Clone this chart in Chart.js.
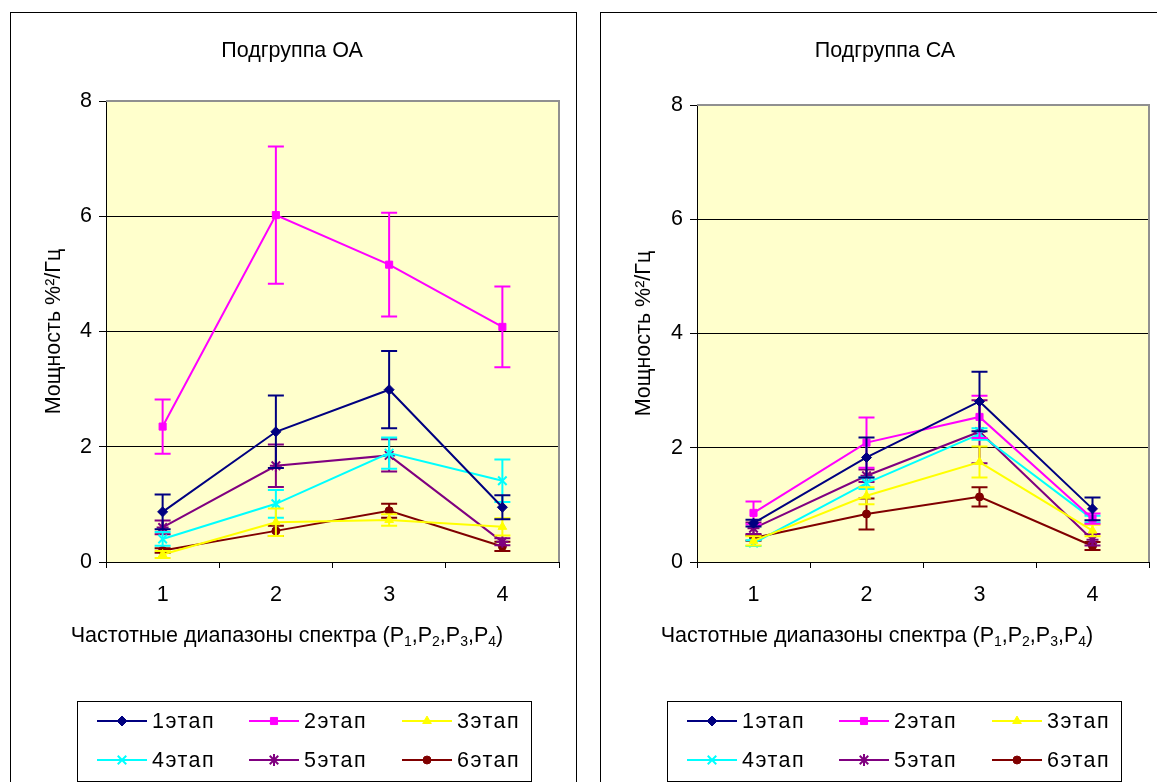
<!DOCTYPE html>
<html><head><meta charset="utf-8">
<script src="https://cdn.jsdelivr.net/npm/chart.js@4.4.1/dist/chart.umd.min.js"></script>
<style>
html,body{margin:0;padding:0;background:#fff;overflow:hidden;width:1157px;height:782px;}
.box{position:absolute;top:12px;width:565px;height:800px;border:1px solid #000;background:#fff;}
#b1{left:10px;} #b2{left:600px;}
canvas{position:absolute;left:0;top:0;}
</style></head><body>
<div class="box" id="b1"><canvas id="c1" width="565" height="769" style="width:565px;height:769px"></canvas></div>
<div class="box" id="b2"><canvas id="c2" width="565" height="769" style="width:565px;height:769px"></canvas></div>
<script>
// ---- data ----
const categories = ['1', '2', '3', '4'];
const seriesNames = ['1этап', '2этап', '3этап', '4этап', '5этап', '6этап'];
const yTicks = [0, 2, 4, 6, 8];

// Подгруппа ОА
const oa1 = [0.87, 2.26, 2.99, 0.95];
const oa1Err = [0.30, 0.63, 0.67, 0.21];
const oa2 = [2.35, 6.02, 5.16, 4.08];
const oa2Err = [0.47, 1.19, 0.90, 0.70];
const oa3 = [0.13, 0.69, 0.73, 0.61];
const oa3Err = [0.06, 0.24, 0.10, 0.15];
const oa4 = [0.40, 1.01, 1.89, 1.41];
const oa4Err = [0.12, 0.24, 0.27, 0.37];
const oa5 = [0.60, 1.67, 1.85, 0.35];
const oa5Err = [0.12, 0.37, 0.28, 0.06];
const oa6 = [0.20, 0.54, 0.89, 0.27];
const oa6Err = [0.04, 0.09, 0.12, 0.08];

// Подгруппа СА
const ca1 = [0.68, 1.83, 2.81, 0.93];
const ca1Err = [0.06, 0.35, 0.52, 0.20];
const ca2 = [0.86, 2.09, 2.54, 0.76];
const ca2Err = [0.20, 0.44, 0.37, 0.09];
const ca3 = [0.37, 1.16, 1.75, 0.55];
const ca3Err = [0.08, 0.15, 0.27, 0.10];
const ca4 = [0.33, 1.38, 2.24, 0.75];
const ca4Err = [0.05, 0.10, 0.10, 0.06];
const ca5 = [0.59, 1.51, 2.28, 0.39];
const ca5Err = [0.10, 0.11, 0.55, 0.10];
const ca6 = [0.42, 0.84, 1.14, 0.28];
const ca6Err = [0.05, 0.27, 0.17, 0.07];

// ---- styles ----
const FONT = '"Liberation Sans", Arial, sans-serif';
const FS = 21.5;
const LH = FS * 1.2;
const colors = ['#000080', '#FF00FF', '#FFFF00', '#00FFFF', '#800080', '#800000'];
const pStyles = ['rectRot', 'rect', 'triangle', 'crossRot', 'star', 'circle'];
const pRadius = [5, 5, 5, 6, 6, 4];
const pBorder = [1, 1, 1, 2, 2, 1];

const bgPlugin = {
  id: 'bg',
  beforeDraw(chart) {
    const a = chart.chartArea, c = chart.ctx;
    c.save();
    c.fillStyle = '#FFFFCC';
    c.fillRect(a.left, a.top, a.right - a.left, a.bottom - a.top);
    c.restore();
  },
  beforeDatasetsDraw(chart) {
    const a = chart.chartArea, c = chart.ctx;
    c.save();
    c.strokeStyle = '#909090';
    c.lineWidth = 2;
    c.beginPath();
    c.moveTo(a.left, a.top); c.lineTo(a.right, a.top); c.lineTo(a.right, a.bottom);
    c.stroke();
    c.restore();
  }
};

const errPlugin = {
  id: 'errbars',
  afterDatasetDraw(chart, args) {
    const ds = chart.data.datasets[args.index];
    const meta = args.meta;
    const ys = chart.scales.y, c = chart.ctx;
    c.save();
    c.strokeStyle = ds.borderColor;
    c.lineWidth = 2;
    ds.data.forEach((v, j) => {
      const e = ds.errors[j];
      const x = meta.data[j].x;
      const yt = ys.getPixelForValue(v + e), yb = ys.getPixelForValue(Math.max(0, v - e));
      c.beginPath();
      c.moveTo(x, yt); c.lineTo(x, yb);
      c.moveTo(x - 8, yt); c.lineTo(x + 8, yt);
      c.moveTo(x - 8, yb); c.lineTo(x + 8, yb);
      c.stroke();
    });
    c.restore();
  }
};

const textPlugin = {
  id: 'texts',
  afterDraw(chart) {
    const c = chart.ctx;
    const o = chart.options;
    c.save();
    c.fillStyle = '#000';
    // chart title
    c.font = FS + 'px ' + FONT;
    c.textAlign = 'center';
    c.textBaseline = 'middle';
    c.fillText(o.chartTitle, o.titleX, 38);
    // x-axis title with subscripts
    c.textAlign = 'left';
    c.textBaseline = 'alphabetic';
    const parts = [['Частотные диапазоны спектра (P', 0], ['1', 1], [',P', 0], ['2', 1], [',P', 0], ['3', 1], [',P', 0], ['4', 1], [')', 0]];
    const big = FS + 'px ' + FONT, small = Math.round(FS * 0.65) + 'px ' + FONT;
    let w = 0;
    parts.forEach(p => { c.font = p[1] ? small : big; w += c.measureText(p[0]).width; });
    let x = o.xTitleX - w / 2;
    const y = chart.chartArea.bottom + 80;
    parts.forEach(p => {
      c.font = p[1] ? small : big;
      c.fillText(p[0], x, p[1] ? y + 4 : y);
      x += c.measureText(p[0]).width;
    });
    c.restore();
  }
};

function drawMarker(c, style, r, bw, color, x, y) {
  if (Chart.helpers && Chart.helpers.drawPoint) {
    c.fillStyle = color; c.strokeStyle = color; c.lineWidth = bw;
    Chart.helpers.drawPoint(c, {pointStyle: style, radius: r, borderWidth: bw, rotation: 0}, x, y);
  }
}

const legendPlugin = {
  id: 'boxlegend',
  afterDraw(chart) {
    const c = chart.ctx;
    const L = 66, T = 688, R = 520, B = 768;
    c.save();
    c.strokeStyle = '#000'; c.lineWidth = 1;
    c.strokeRect(L + 0.5, T + 0.5, R - L, B - T);
    const colX = [86, 238, 391], rowY = [708, 747];
    chart.data.datasets.forEach((ds, i) => {
      const x0 = colX[i % 3], y0 = rowY[Math.floor(i / 3)];
      c.strokeStyle = ds.borderColor; c.lineWidth = 2;
      c.beginPath(); c.moveTo(x0, y0); c.lineTo(x0 + 50, y0); c.stroke();
      drawMarker(c, ds.pointStyle, ds.pointRadius, ds.pointBorderWidth, ds.borderColor, x0 + 25, y0);
      c.fillStyle = '#000';
      c.font = FS + 'px ' + FONT;
      c.textBaseline = 'middle';
      if ('letterSpacing' in c) c.letterSpacing = '1.5px';
      c.fillText(ds.label, x0 + 55, y0 + 1);
      if ('letterSpacing' in c) c.letterSpacing = '0px';
    });
    c.restore();
  }
};

function makeChart(id, title, values, errs, plotTop, yWidth, titleX, xTitleX) {
  const datasets = seriesNames.map((n, i) => ({
    label: n,
    data: values[i],
    errors: errs[i],
    borderColor: colors[i],
    backgroundColor: colors[i],
    pointBackgroundColor: colors[i],
    pointBorderColor: colors[i],
    pointStyle: pStyles[i],
    pointRadius: pRadius[i],
    pointBorderWidth: pBorder[i],
    borderWidth: 2,
    tension: 0,
    fill: false,
    clip: false
  }));
  return new Chart(document.getElementById(id), {
    type: 'line',
    data: {labels: categories, datasets},
    options: {
      responsive: false,
      animation: false,
      events: [],
      chartTitle: title,
      titleX,
      xTitleX,
      layout: {padding: {left: 0, right: 17, top: plotTop, bottom: 172}},
      plugins: {
        legend: {display: false},
        tooltip: {enabled: false},
        title: {display: false}
      },
      scales: {
        x: {
          type: 'category',
          offset: true,
          grid: {offset: true, drawOnChartArea: false, drawTicks: true, tickLength: 6, color: '#000', tickColor: '#000'},
          border: {display: true, color: '#000', width: 1},
          ticks: {color: '#000', font: {family: FONT, size: FS}, padding: 14, maxRotation: 0},
          afterFit(s) { s.height = 48; }
        },
        y: {
          min: 0, max: 8,
          afterBuildTicks(s) { s.ticks = yTicks.map(v => ({value: v})); },
          ticks: {color: '#000', font: {family: FONT, size: FS}, padding: 7},
          grid: {
            drawTicks: true, tickLength: 7, tickColor: '#000',
            color: ctx => (ctx.tick && ctx.tick.value === 8) ? 'rgba(0,0,0,0)' : '#000'
          },
          border: {display: true, color: '#000', width: 1},
          title: {display: true, text: 'Мощность %²/Гц', color: '#000', font: {family: FONT, size: FS}, padding: {top: 30, bottom: 0}},
          afterFit(s) { s.width = yWidth; }
        }
      }
    },
    plugins: [bgPlugin, errPlugin, textPlugin, legendPlugin]
  });
}

makeChart('c1', 'Подгруппа ОА', [oa1, oa2, oa3, oa4, oa5, oa6], [oa1Err, oa2Err, oa3Err, oa4Err, oa5Err, oa6Err], 88, 95, 281, 276);
makeChart('c2', 'Подгруппа СА', [ca1, ca2, ca3, ca4, ca5, ca6], [ca1Err, ca2Err, ca3Err, ca4Err, ca5Err, ca6Err], 92, 96, 284, 276);
</script>
</body></html>
